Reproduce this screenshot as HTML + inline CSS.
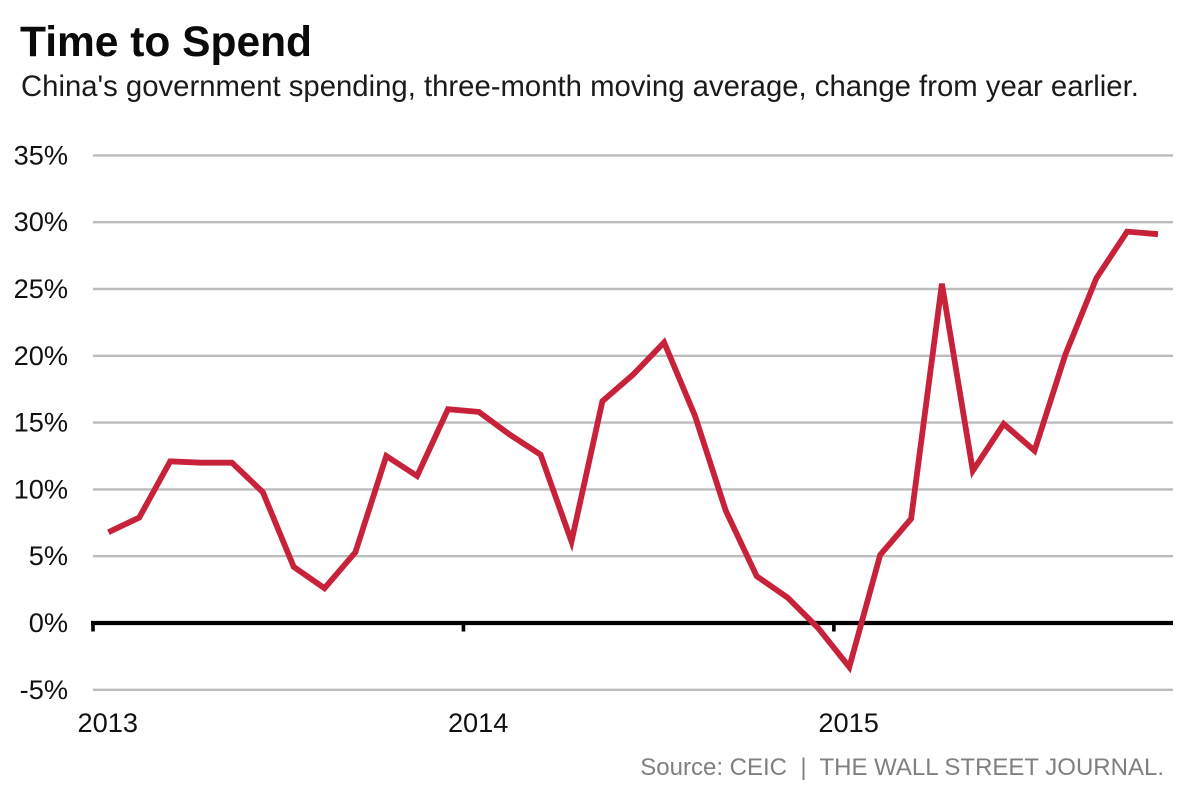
<!DOCTYPE html>
<html lang="en">
<head>
<meta charset="utf-8">
<title>Time to Spend</title>
<style>
html,body{margin:0;padding:0;background:#fff;}
body{width:1200px;height:800px;overflow:hidden;}
svg{display:block;font-family:"Liberation Sans",Arial,sans-serif;}
</style>
</head>
<body>
<svg id="chart" xmlns="http://www.w3.org/2000/svg" width="1200" height="800" viewBox="0 0 1200 800">
  <rect x="0" y="0" width="1200" height="800" fill="#ffffff"/>
  <text x="20" y="56" font-size="42.5" font-weight="700" fill="#0a0a0a">Time to Spend</text>
  <text x="21" y="96" font-size="29.3" fill="#1a1a1a">China's government spending, three-month moving average, change from year earlier.</text>
  <text x="1164" y="775" font-size="24" fill="#808080" text-anchor="end" style="white-space:pre">Source: CEIC  |  THE WALL STREET JOURNAL.</text>
</svg>
<script>
const yTicks = [35, 30, 25, 20, 15, 10, 5, 0, -5];
const yearLabels = ['2013', '2014', '2015'];
const yearStartMonths = [0, 12, 24];
const months = [
  '2013-01','2013-02','2013-03','2013-04','2013-05','2013-06','2013-07','2013-08','2013-09','2013-10','2013-11','2013-12',
  '2014-01','2014-02','2014-03','2014-04','2014-05','2014-06','2014-07','2014-08','2014-09','2014-10','2014-11','2014-12',
  '2015-01','2015-02','2015-03','2015-04','2015-05','2015-06','2015-07','2015-08','2015-09','2015-10','2015-11'
];
const spendingChange = [
  6.8, 7.9, 12.1, 12.0, 12.0, 9.8, 4.2, 2.6, 5.3, 12.5, 11.0, 16.0,
  15.8, 14.1, 12.6, 6.1, 16.6, 18.6, 21.0, 15.5, 8.4, 3.5, 1.9, -0.4,
  -3.3, 5.1, 7.8, 25.4, 11.4, 14.9, 12.9, 20.1, 25.8, 29.3, 29.1
];

const SVG_NS = 'http://www.w3.org/2000/svg';
const chart = document.getElementById('chart');
const plotLeft = 93;
const plotRight = 1173;
const monthWidth = 30.87;
const zeroY = 623;
const pxPerPercent = 13.36;

function xScale(month) {
  return plotLeft + month * monthWidth;
}
function yScale(value) {
  return zeroY - value * pxPerPercent;
}
function make(tag, attrs) {
  const el = document.createElementNS(SVG_NS, tag);
  for (const key in attrs) el.setAttribute(key, attrs[key]);
  chart.appendChild(el);
  return el;
}

yTicks.forEach(function (tick) {
  if (tick !== 0) {
    const grid = make('line', {x1: plotLeft, x2: plotRight, y1: yScale(tick), y2: yScale(tick), stroke: '#bcbcbc', 'stroke-width': 2.4});
    
    
  }
  const label = make('text', {x: 68, y: yScale(tick) + 9, 'font-size': 27.2, fill: '#111111', 'text-anchor': 'end'});
  label.textContent = tick + '%';
  
  
});

const zeroLine = make('line', {x1: plotLeft - 2, x2: plotRight, y1: yScale(0), y2: yScale(0), stroke: '#000000', 'stroke-width': 4.2});



yearStartMonths.forEach(function (month, i) {
  const tickMark = make('line', {x1: xScale(month), x2: xScale(month), y1: yScale(0), y2: yScale(0) + 8.5, stroke: '#000000', 'stroke-width': 3.6});
  
  
  const label = make('text', {x: xScale(month) - 15.5, y: 732, 'font-size': 27.2, fill: '#111111'});
  label.textContent = yearLabels[i];
  
  
});

const linePoints = spendingChange.map(function (value, i) {
  return xScale(i + 0.5).toFixed(1) + ',' + yScale(value).toFixed(1);
}).join(' ');
const seriesLine = make('polyline', {points: linePoints, fill: 'none', stroke: '#c8223a', 'stroke-width': 5.8, 'stroke-linejoin': 'miter', 'stroke-miterlimit': 4});


</script>
</body>
</html>
